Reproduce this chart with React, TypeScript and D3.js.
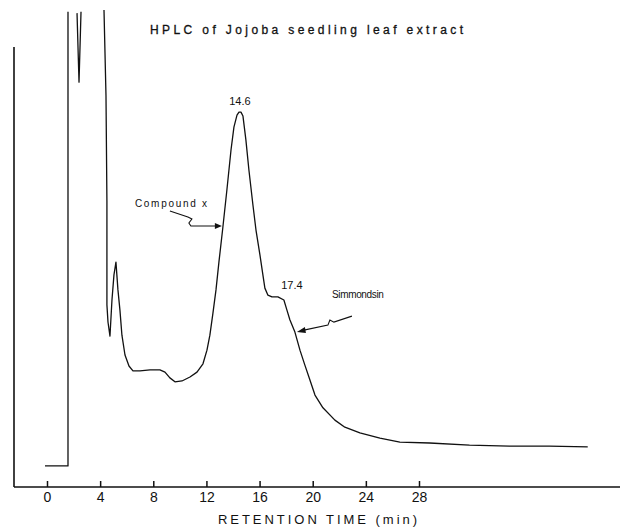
import React, { useEffect, useRef } from 'react';
import * as d3 from 'd3';

// retention time (min) and detector response (arbitrary units); NaN = pen off the chart
const retentionTime = [
  -0.15, 1.5, 1.58, 1.58, 1.9, 2.26, 2.41, 2.56, 3.4, 4.29, 4.44, 4.51, 4.51, 4.59, 4.74,
  4.89, 5.04, 5.19, 5.34, 5.49, 5.64, 5.87, 6.17, 6.47, 7.0, 7.75, 8.5, 8.88, 9.25, 9.63,
  10.16, 10.76, 11.29, 11.74, 12.04, 12.26, 12.49, 12.72, 12.94, 13.24, 13.54, 13.85, 14.07,
  14.3, 14.45, 14.6, 14.75, 14.97, 15.2, 15.5, 15.73, 16.03, 16.25, 16.4, 16.63, 16.93,
  17.38, 17.83, 18.06, 18.28, 18.66, 19.04, 19.41, 19.79, 20.17, 20.77, 21.67, 22.42, 23.55,
  25.06, 26.56, 28.8, 31.8, 34.8, 37.8, 40.7,
];
const response = [
  4.8, 4.8, 4.8, 108, NaN, 107.7, 92, 108, NaN, 108.4, 89, 65, 41.4, 37.5, 34.3,
  42.5, 48.2, 51.1, 44.8, 40.2, 34.5, 30, 27.5, 26.4, 26.4, 26.6, 26.6, 26.1, 24.8, 23.9,
  24.1, 25, 26.1, 28, 31.1, 34.5, 39.5, 44.8, 51.1, 59.1, 67.5, 76.6, 81.8,
  84.5, 85.2, 85.2, 84.3, 78.9, 72, 64.1, 58.4, 52.7, 48.2, 45.2, 43.6, 43.2,
  43.2, 42.5, 40.2, 38, 35.2, 31.1, 27.7, 24.3, 20.9, 18, 15.2, 13.6, 12.3,
  11.1, 10.2, 10, 9.5, 9.3, 9.3, 9.1,
];
const tickValues = [0, 4, 8, 12, 16, 20, 24, 28];

const title = 'HPLC of Jojoba seedling leaf extract';
const xTitle = 'RETENTION TIME (min)';
const peakLabels = [
  { t: 14.6, v: 85.2, text: '14.6' },
  { t: 17.4, v: 43.2, text: '17.4' },
];
const compoundTarget = { t: 13.24, v: 59.1 };
const simmondsinTarget = { t: 18.66, v: 35.2 };

const W = 620;
const H = 528;
const font = 'Liberation Sans, Arial, sans-serif';

export default function App() {
  const axisRef = useRef<SVGGElement>(null);

  const x = d3.scaleLinear().domain([0, 28]).range([47, 419]);
  const y = d3.scaleLinear().domain([0, 100]).range([487, 47]);
  const x0 = 14;
  const baseY = y(0);

  const data = retentionTime.map((t, i) => ({ t, v: response[i] }));
  const line = d3
    .line<{ t: number; v: number }>()
    .defined((d) => Number.isFinite(d.v))
    .x((d) => x(d.t))
    .y((d) => y(d.v));

  useEffect(() => {
    if (!axisRef.current) return;
    const g = d3.select(axisRef.current);
    g.selectAll('*').remove();
    g.call(
      d3.axisBottom(x).tickValues(tickValues).tickSizeInner(-6).tickSizeOuter(0).tickPadding(5)
    );
    g.select('.domain').remove();
    g.selectAll('line').attr('stroke', '#111').attr('stroke-width', 1.5);
    g.selectAll('text')
      .attr('fill', '#111')
      .style('font-size', '14px')
      .style('font-family', font);
  }, []);

  const cx = x(compoundTarget.t);
  const cy = y(compoundTarget.v);
  const compoundPath = [
    [-53, -16], [-35, -10], [-31, -8], [-34, -4], [-32, -1], [-7, -1],
  ].map(([dx, dy]) => `${cx + dx},${cy + dy}`).join(' L');
  const sx = x(simmondsinTarget.t) + 2;
  const sy = y(simmondsinTarget.v);
  const simPath = [
    [55, -16], [37, -10], [33, -12], [31, -7], [7, -2],
  ].map(([dx, dy]) => `${sx + dx},${sy + dy}`).join(' L');

  return (
    <svg
      width={W}
      height={H}
      style={{ position: 'absolute', left: 0, top: 0, background: '#fff' }}
    >
      {/* axes */}
      <line x1={x0} x2={x0} y1={y(100)} y2={baseY} stroke="#111" strokeWidth={1.6} />
      <line x1={x0} x2={W} y1={baseY} y2={baseY} stroke="#111" strokeWidth={1.6} />
      <g ref={axisRef} transform={`translate(0,${baseY})`} />
      <text
        x={218}
        y={524}
        textLength={199}
        lengthAdjust="spacing"
        fontSize={13}
        fontFamily={font}
        fill="#111"
      >
        {xTitle}
      </text>

      {/* title */}
      <text
        x={150}
        y={34}
        textLength={313}
        lengthAdjust="spacing"
        fontSize={12}
        fontFamily={font}
        fill="#111"
        stroke="#111"
        strokeWidth={0.3}
      >
        {title}
      </text>

      {/* trace */}
      <path d={line(data) ?? ''} fill="none" stroke="#111" strokeWidth={1.3} strokeLinejoin="round" />

      {/* peak labels */}
      {peakLabels.map((p, i) => (
        <text
          key={p.text}
          x={x(p.t) + (i === 0 ? -1 : 3)}
          y={y(p.v) - (i === 0 ? 7 : 8)}
          textAnchor={i === 0 ? 'middle' : 'start'}
          fontSize={11}
          fontFamily={font}
          fill="#111"
        >
          {p.text}
        </text>
      ))}

      {/* Compound x annotation */}
      <text x={cx - 88} y={cy - 20} fontSize={10} fontFamily={font} fill="#111" textLength={72} lengthAdjust="spacing">
        Compound x
      </text>
      <path d={`M${compoundPath}`} fill="none" stroke="#111" strokeWidth={1.1} />
      <path d={`M${cx - 1},${cy - 1} L${cx - 8},${cy - 4} L${cx - 8},${cy + 2} Z`} fill="#111" />

      {/* Simmondsin annotation */}
      <text x={sx + 35} y={sy - 34} fontSize={10} fontFamily={font} fill="#111" textLength={52} lengthAdjust="spacing">
        Simmondsin
      </text>
      <path d={`M${simPath}`} fill="none" stroke="#111" strokeWidth={1.1} />
      <path d={`M${sx},${sy} L${sx + 8},${sy - 5} L${sx + 9},${sy + 1} Z`} fill="#111" />
    </svg>
  );
}
